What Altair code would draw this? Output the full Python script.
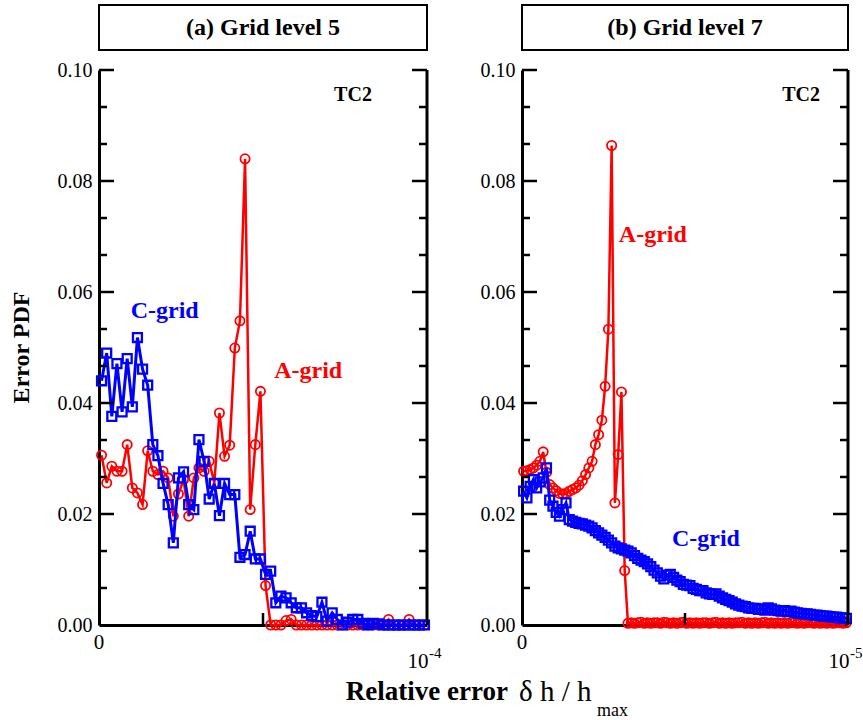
import altair as alt
import pandas as pd

FONT = "Liberation Serif, Times New Roman, Times, serif"
RED = "#ff0000"
BLUE = "#0000ff"

# ---------------- data ----------------
# Panel (a) grid level 5 : 64 bins over [0, 1e-4]
a_agrid = [0.0306, 0.0256, 0.0286, 0.0277, 0.0277, 0.0325, 0.0247, 0.0238, 0.0217, 0.0314,
           0.0277, 0.0271, 0.0277, 0.0265, 0.0196, 0.0236, 0.0262, 0.0196, 0.0265, 0.0283,
           0.0277, 0.0295, 0.0256, 0.0382, 0.0304, 0.0324, 0.0499, 0.0548, 0.0840, 0.0208,
           0.0325, 0.0421, 0.0071, 0.0000, 0.0000, 0.0000, 0.0008, 0.0010, 0.0000, 0.0000,
           0.0000, 0.0000, 0.0000, 0.0000, 0.0000, 0.0000, 0.0000, 0.0000, 0.0000, 0.0000,
           0.0000, 0.0000, 0.0000, 0.0000, 0.0000, 0.0000, 0.0010, 0.0000, 0.0000, 0.0000,
           0.0010, 0.0000, 0.0000, 0.0000]
a_cgrid = [0.0440, 0.0490, 0.0376, 0.0471, 0.0384, 0.0480, 0.0393, 0.0518, 0.0461, 0.0432,
           0.0325, 0.0305, 0.0255, 0.0217, 0.0148, 0.0265, 0.0276, 0.0217, 0.0208, 0.0334,
           0.0295, 0.0227, 0.0255, 0.0197, 0.0255, 0.0235, 0.0235, 0.0122, 0.0127, 0.0169,
           0.0119, 0.0119, 0.0091, 0.0097, 0.0040, 0.0052, 0.0049, 0.0040, 0.0031, 0.0031,
           0.0022, 0.0017, 0.0015, 0.0041, 0.0007, 0.0022, 0.0010, 0.0000, 0.0005, 0.0010,
           0.0010, 0.0003, 0.0000, 0.0003, 0.0002, 0.0000, 0.0000, 0.0000, 0.0000, 0.0000,
           0.0000, 0.0000, 0.0000, 0.0000]

# Panel (b) grid level 7 : 100 bins over [0, 1e-5]
b_agrid = [0.0277, 0.0278, 0.0280, 0.0283, 0.0288, 0.0295, 0.0312, 0.0275, 0.0253, 0.0247,
           0.0242, 0.0237, 0.0236, 0.0237, 0.0241, 0.0244, 0.0247, 0.0252, 0.0260, 0.0271,
           0.0283, 0.0295, 0.0325, 0.0343, 0.0369, 0.0430, 0.0533, 0.0864, 0.0220, 0.0307,
           0.0420, 0.0098, 0.0003, 0.0004, 0.0003, 0.0004, 0.0005, 0.0003, 0.0004, 0.0003,
           0.0004, 0.0004, 0.0003, 0.0005, 0.0004, 0.0003, 0.0004, 0.0003, 0.0004, 0.0005,
           0.0003, 0.0004, 0.0003, 0.0004, 0.0003, 0.0004, 0.0004, 0.0003, 0.0004, 0.0005,
           0.0003, 0.0004, 0.0003, 0.0004, 0.0003, 0.0004, 0.0004, 0.0005, 0.0003, 0.0004,
           0.0003, 0.0004, 0.0003, 0.0004, 0.0005, 0.0003, 0.0004, 0.0003, 0.0004, 0.0003,
           0.0004, 0.0003, 0.0004, 0.0004, 0.0003, 0.0004, 0.0003, 0.0004, 0.0005, 0.0003,
           0.0004, 0.0003, 0.0004, 0.0003, 0.0004, 0.0003, 0.0004, 0.0004, 0.0003, 0.0004]
b_cgrid = [0.0241, 0.0229, 0.0250, 0.0262, 0.0247, 0.0258, 0.0265, 0.0283, 0.0225, 0.0214,
           0.0203, 0.0196, 0.0208, 0.0220, 0.0190, 0.0187, 0.0185, 0.0183, 0.0182, 0.0180,
           0.0178, 0.0175, 0.0170, 0.0166, 0.0162, 0.0158, 0.0153, 0.0148, 0.0142, 0.0139,
           0.0137, 0.0135, 0.0133, 0.0130, 0.0125, 0.0120, 0.0117, 0.0114, 0.0110, 0.0105,
           0.0099, 0.0094, 0.0088, 0.0083, 0.0090, 0.0091, 0.0086, 0.0081, 0.0078, 0.0073,
           0.0072, 0.0071, 0.0066, 0.0064, 0.0062, 0.0062, 0.0058, 0.0056, 0.0055, 0.0056,
           0.0052, 0.0049, 0.0046, 0.0044, 0.0041, 0.0038, 0.0036, 0.0034, 0.0033, 0.0031,
           0.0030, 0.0030, 0.0028, 0.0029, 0.0027, 0.0031, 0.0029, 0.0027, 0.0026, 0.0025,
           0.0026, 0.0024, 0.0025, 0.0023, 0.0022, 0.0021, 0.0020, 0.0020, 0.0019, 0.0018,
           0.0018, 0.0017, 0.0016, 0.0016, 0.0015, 0.0014, 0.0014, 0.0013, 0.0013, 0.0012]

y_labels = [0.00, 0.02, 0.04, 0.06, 0.08, 0.10]
y_major_ticks = [0.02, 0.04, 0.06, 0.08, 0.10]
y_minor_ticks = [0.00667, 0.01333, 0.02667, 0.03333, 0.04667, 0.05333,
                 0.06667, 0.07333, 0.08667, 0.09333]
x_mid_tick = [0.5]

W_A, W_B, H = 328, 326, 555


def panel(agrid, cgrid, W, title_text, exponent, notes, extra=None):
    n = len(agrid)
    xs = [(i + 0.5) / n for i in range(n)]
    dfa = pd.DataFrame({"x": xs, "v": agrid})
    dfc = pd.DataFrame({"x": xs, "v": cgrid})
    xs_ = alt.Scale(domain=[0, 1], nice=False, zero=False)
    ys_ = alt.Scale(domain=[0, 0.1], nice=False)
    x_axis = alt.Axis(values=[0, 1], labels=False, ticks=False, grid=False,
                      domainWidth=3, domainColor="black", title=None)
    y_axis = alt.Axis(values=y_labels, format=".2f", ticks=False, grid=False,
                      domainWidth=3, domainColor="black", labelFont=FONT,
                      labelFontSize=20, labelColor="black", labelPadding=7, title=None)
    Xn = lambda f: alt.X(f, scale=xs_, axis=x_axis)
    Yn = lambda f: alt.Y(f, scale=ys_, axis=y_axis)
    X = Xn("x:Q")
    Y = Yn("v:Q")

    red_line = alt.Chart(dfa).mark_line(color=RED, strokeWidth=2.5).encode(x=X, y=Y)
    red_pts = alt.Chart(dfa).mark_point(shape="circle", filled=False, color=RED, size=85,
                                        strokeWidth=1.8, opacity=1).encode(x=X, y=Y)
    blue_line = alt.Chart(dfc).mark_line(color=BLUE, strokeWidth=3).encode(x=X, y=Y)
    blue_pts = alt.Chart(dfc).mark_point(shape="square", filled=False, color=BLUE, size=80,
                                         strokeWidth=2.3, opacity=1).encode(x=X, y=Y)

    right_axis = alt.Chart(pd.DataFrame({"x": [1], "y0": [0], "y1": [0.1]})).mark_rule(
        color="black", strokeWidth=3).encode(x=Xn("x:Q"), y=Yn("y0:Q"), y2="y1:Q")
    maj = pd.DataFrame({"t": y_major_ticks})
    mnr = pd.DataFrame({"t": y_minor_ticks})
    lt_maj = alt.Chart(maj).mark_rule(color="black", strokeWidth=2.5).encode(
        x=alt.value(0), x2=alt.value(15), y=Yn("t:Q"))
    rt_maj = alt.Chart(maj).mark_rule(color="black", strokeWidth=2.5).encode(
        x=alt.value(W - 15), x2=alt.value(W), y=Yn("t:Q"))
    lt_min = alt.Chart(mnr).mark_rule(color="black", strokeWidth=2.5).encode(
        x=alt.value(0), x2=alt.value(8), y=Yn("t:Q"))
    rt_min = alt.Chart(mnr).mark_rule(color="black", strokeWidth=2.5).encode(
        x=alt.value(W - 8), x2=alt.value(W), y=Yn("t:Q"))
    bt = alt.Chart(pd.DataFrame({"x": x_mid_tick})).mark_rule(color="black", strokeWidth=2.5).encode(
        x=Xn("x:Q"), y=alt.value(H), y2=alt.value(H - 12))

    lab0 = alt.Chart(pd.DataFrame({"x": [0], "t": ["0"]})).mark_text(
        font=FONT, fontSize=21, color="black", baseline="middle", align="center", dy=18).encode(
        x=Xn("x:Q"), y=alt.value(H), text="t:N")
    lab10 = alt.Chart(pd.DataFrame({"x": [1], "t": ["10"]})).mark_text(
        font=FONT, fontSize=21, color="black", baseline="middle", align="center", dx=-9, dy=37).encode(
        x=Xn("x:Q"), y=alt.value(H), text="t:N")
    labexp = alt.Chart(pd.DataFrame({"x": [1], "t": [exponent]})).mark_text(
        font=FONT, fontSize=15, color="black", baseline="middle", align="left", dx=2, dy=28).encode(
        x=Xn("x:Q"), y=alt.value(H), text="t:N")

    box = alt.Chart(pd.DataFrame({"a": [0]})).mark_rect(
        fill="white", stroke="black", strokeWidth=2).encode(
        x=alt.value(0), x2=alt.value(W), y=alt.value(-65), y2=alt.value(-20))
    ttl = alt.Chart(pd.DataFrame({"t": [title_text]})).mark_text(
        font=FONT, fontSize=24, fontWeight="bold", color="black", baseline="middle",
        align="center").encode(x=alt.value(W / 2), y=alt.value(-42), text="t:N")

    ndf = pd.DataFrame(notes, columns=["x", "y", "t", "c", "al"])
    nl = alt.Chart(ndf[ndf.al == "left"]).mark_text(
        font=FONT, fontSize=24, fontWeight="bold", baseline="middle", align="left").encode(
        x=Xn("x:Q"), y=Yn("y:Q"), text="t:N", color=alt.Color("c:N", scale=None))
    nr = alt.Chart(ndf[ndf.al == "right"]).mark_text(
        font=FONT, fontSize=20, fontWeight="bold", baseline="middle", align="right").encode(
        x=Xn("x:Q"), y=Yn("y:Q"), text="t:N", color=alt.Color("c:N", scale=None))

    layers = [red_line, red_pts, blue_line, blue_pts, right_axis, lt_maj, rt_maj, lt_min,
              rt_min, bt, lab0, lab10, labexp, box, ttl, nl, nr]
    if extra:
        layers += extra
    return alt.layer(*layers).properties(width=W, height=H)


ylab = alt.Chart(pd.DataFrame({"t": ["Error PDF"]})).mark_text(
    font=FONT, fontSize=24, fontWeight="bold", color="black", angle=270,
    baseline="middle", align="center").encode(x=alt.value(-77), y=alt.value(H / 2), text="t:N")
xlab1 = alt.Chart(pd.DataFrame({"t": ["Relative error"]})).mark_text(
    font=FONT, fontSize=27, fontWeight="bold", color="black", baseline="middle",
    align="right").encode(x=alt.value(409), y=alt.value(622), text="t:N")
xlab2 = alt.Chart(pd.DataFrame({"t": ["\u03b4 h / h"]})).mark_text(
    font=FONT, fontSize=29, color="black", baseline="middle",
    align="left").encode(x=alt.value(420), y=alt.value(622), text="t:N")
xlab3 = alt.Chart(pd.DataFrame({"t": ["max"]})).mark_text(
    font=FONT, fontSize=18, color="black", baseline="middle",
    align="left").encode(x=alt.value(498), y=alt.value(641), text="t:N")

notes_a = [(0.0966, 0.0565, "C-grid", BLUE, "left"),
           (0.534, 0.0458, "A-grid", RED, "left"),
           (0.832, 0.0955, "TC2", "black", "right")]
notes_b = [(0.297, 0.0703, "A-grid", RED, "left"),
           (0.460, 0.0155, "C-grid", BLUE, "left"),
           (0.914, 0.0955, "TC2", "black", "right")]

pa = panel(a_agrid, a_cgrid, W_A, "(a)  Grid level 5", "-4", notes_a,
           extra=[ylab, xlab1, xlab2, xlab3])
pb = panel(b_agrid, b_cgrid, W_B, "(b)  Grid level 7", "-5", notes_b)

chart = alt.hconcat(pa, pb, spacing=95, bounds="flush").properties(
    padding={"left": 10, "top": 4, "right": 0, "bottom": 0},
    background="white",
).configure_view(stroke=None)

chart.save("out.html", embed_options={"renderer": "svg", "actions": False})
